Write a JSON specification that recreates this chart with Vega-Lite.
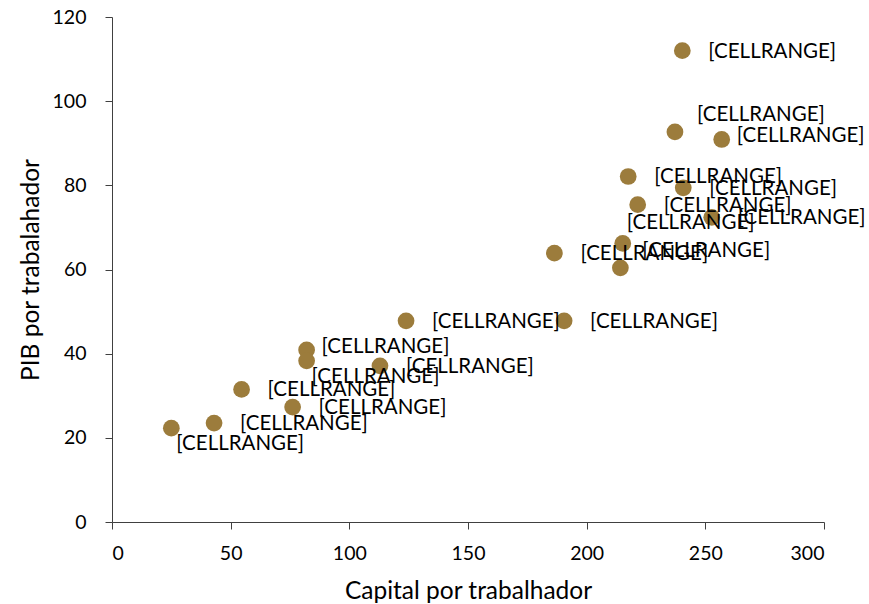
{
  "$schema": "https://vega.github.io/schema/vega-lite/v6.json",
  "autosize": "none",
  "width": 712,
  "height": 505,
  "padding": {"left": 112, "top": 17, "right": 45, "bottom": 82},
  "background": "white",
  "config": {
    "view": {"stroke": null},
    "font": "Lato",
    "axis": {
      "grid": false,
      "domainColor": "#404040",
      "tickColor": "#404040",
      "tickSize": 7,
      "labelColor": "#000000",
      "titleColor": "#000000",
      "labelFont": "Lato",
      "titleFont": "Lato",
      "labelFontSize": 19.5,
      "titleFontSize": 24.5,
      "titleFontWeight": "normal"
    }
  },
  "data": {
    "values": [
      {"capital": 25.0, "pib": 22.3, "label": "[CELLRANGE]", "pos": "below"},
      {"capital": 43.0, "pib": 23.5, "label": "[CELLRANGE]", "pos": "right"},
      {"capital": 54.6, "pib": 31.5, "label": "[CELLRANGE]", "pos": "right"},
      {"capital": 76.1, "pib": 27.3, "label": "[CELLRANGE]", "pos": "right"},
      {"capital": 82.0, "pib": 40.9, "label": "[CELLRANGE]", "pos": "near"},
      {"capital": 82.0, "pib": 38.3, "label": "[CELLRANGE]", "pos": "below"},
      {"capital": 112.9, "pib": 37.1, "label": "[CELLRANGE]", "pos": "right"},
      {"capital": 123.9, "pib": 47.8, "label": "[CELLRANGE]", "pos": "right"},
      {"capital": 186.4, "pib": 63.9, "label": "[CELLRANGE]", "pos": "right"},
      {"capital": 190.5, "pib": 47.8, "label": "[CELLRANGE]", "pos": "right"},
      {"capital": 214.2, "pib": 60.4, "label": "[CELLRANGE]", "pos": "upright"},
      {"capital": 215.2, "pib": 66.2, "label": "[CELLRANGE]", "pos": "top"},
      {"capital": 217.5, "pib": 82.1, "label": "[CELLRANGE]", "pos": "right"},
      {"capital": 221.5, "pib": 75.4, "label": "[CELLRANGE]", "pos": "right"},
      {"capital": 237.2, "pib": 92.7, "label": "[CELLRANGE]", "pos": "upright"},
      {"capital": 240.3, "pib": 112.0, "label": "[CELLRANGE]", "pos": "right"},
      {"capital": 240.7, "pib": 79.4, "label": "[CELLRANGE]", "pos": "right"},
      {"capital": 252.7, "pib": 72.4, "label": "[CELLRANGE]", "pos": "right"},
      {"capital": 256.9, "pib": 90.9, "label": "[CELLRANGE]", "pos": "near"}
    ]
  },
  "encoding": {
    "x": {
      "field": "capital",
      "type": "quantitative",
      "scale": {"domain": [0, 300], "nice": false},
      "axis": {"values": [0, 50, 100, 150, 200, 250, 300], "title": "Capital por trabalhador", "labelPadding": 15, "titlePadding": 17}
    },
    "y": {
      "field": "pib",
      "type": "quantitative",
      "scale": {"domain": [0, 120], "nice": false},
      "axis": {"values": [0, 20, 40, 60, 80, 100, 120], "title": "PIB por trabalahador", "labelPadding": 19, "titlePadding": 9}
    }
  },
  "layer": [
    {
      "mark": {"type": "circle", "size": 280, "color": "#9C7C3C", "opacity": 1}
    },
    {
      "transform": [{"filter": "datum.pos === 'right'"}],
      "mark": {"type": "text", "align": "left", "baseline": "middle", "dx": 26, "dy": 1, "fontSize": 20.5, "font": "Lato", "color": "#000000"},
      "encoding": {"text": {"field": "label"}}
    },
    {
      "transform": [{"filter": "datum.pos === 'upright'"}],
      "mark": {"type": "text", "align": "left", "baseline": "middle", "dx": 22, "dy": -17, "fontSize": 20.5, "font": "Lato", "color": "#000000"},
      "encoding": {"text": {"field": "label"}}
    },
    {
      "transform": [{"filter": "datum.pos === 'top'"}],
      "mark": {"type": "text", "align": "left", "baseline": "middle", "dx": 4, "dy": -20, "fontSize": 20.5, "font": "Lato", "color": "#000000"},
      "encoding": {"text": {"field": "label"}}
    },
    {
      "transform": [{"filter": "datum.pos === 'below'"}],
      "mark": {"type": "text", "align": "left", "baseline": "middle", "dx": 5, "dy": 16, "fontSize": 20.5, "font": "Lato", "color": "#000000"},
      "encoding": {"text": {"field": "label"}}
    },
    {
      "transform": [{"filter": "datum.pos === 'near'"}],
      "mark": {"type": "text", "align": "left", "baseline": "middle", "dx": 15, "dy": -3, "fontSize": 20.5, "font": "Lato", "color": "#000000"},
      "encoding": {"text": {"field": "label"}}
    }
  ]
}
